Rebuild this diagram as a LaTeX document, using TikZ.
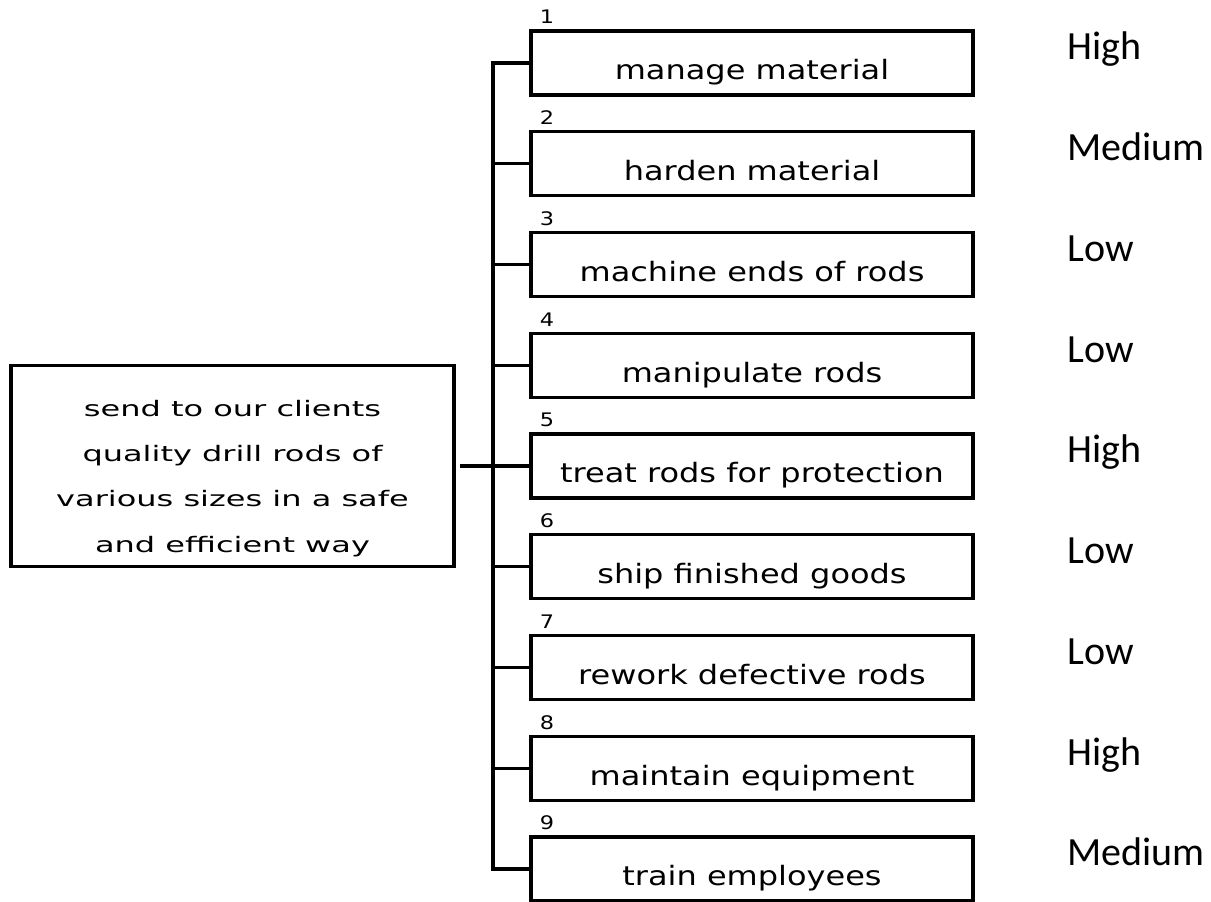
\documentclass[tikz,border=0pt]{standalone}
\usepackage{fontspec}
\setmainfont{DejaVu Sans}
\newfontfamily\pixfont[FakeStretch=1.2]{DejaVu Sans}
\newfontfamily\goalfont[FakeStretch=1.5]{DejaVu Sans}
\newfontfamily\rankfont{Carlito}
\usetikzlibrary{positioning,calc}

\begin{document}
\begin{tikzpicture}[
  x=0.75pt, y=-0.75pt,
  line width=2.4pt,
  node distance=27.56pt,
  goalbox/.style={draw, rectangle, inner sep=0pt, outer sep=0pt, minimum width=332.25pt, minimum height=150.75pt, align=center, font={\goalfont\fontsize{16}{34}\selectfont}},
  func/.style={draw, rectangle, inner sep=0pt, outer sep=0pt, minimum width=331.5pt, text height=36.75pt, text depth=11.25pt, font={\pixfont\fontsize{20}{24}\selectfont}},
  num/.style={inner sep=0pt, font={\pixfont\fontsize{14}{16}\selectfont}},
  rank/.style={inner sep=0pt, font={\rankfont\fontsize{30}{36}\selectfont}},
  wire/.style={line width=2.4pt}
]
\useasboundingbox (0,0) rectangle (1211,902);

% functions
\node[func] (b1) at (752,63) {manage material};
\node[func, below=of b1] (b2) {harden material};
\node[func, below=of b2] (b3) {machine ends of rods};
\node[func, below=of b3] (b4) {manipulate rods};
\node[func, below=of b4] (b5) {treat rods for protection};
\node[func, below=of b5] (b6) {ship finished goods};
\node[func, below=of b6] (b7) {rework defective rods};
\node[func, below=of b7] (b8) {maintain equipment};
\node[func, below=of b8] (b9) {train employees};

% goal
\node[goalbox, left=57.75pt of b5] (goal) {\rule{0pt}{30.8pt}send to our clients\\quality drill rods of\\various sizes in a safe\\and efficient way};

% numbers
\node[num] (n1) at ($(b1.north west)+(16,-14)$) {1};
\node[num] (n2) at ($(b2.north west)+(16,-14)$) {2};
\node[num] (n3) at ($(b3.north west)+(16,-14)$) {3};
\node[num] (n4) at ($(b4.north west)+(16,-14)$) {4};
\node[num] (n5) at ($(b5.north west)+(16,-14)$) {5};
\node[num] (n6) at ($(b6.north west)+(16,-14)$) {6};
\node[num] (n7) at ($(b7.north west)+(16,-14)$) {7};
\node[num] (n8) at ($(b8.north west)+(16,-14)$) {8};
\node[num] (n9) at ($(b9.north west)+(16,-14)$) {9};

% priorities
\node[rank, right=69.75pt of b1.east, anchor=base west, yshift=2.25pt] (r1) {High};
\node[rank, right=69.75pt of b2.east, anchor=base west, yshift=2.25pt] (r2) {Medium};
\node[rank, right=69.75pt of b3.east, anchor=base west, yshift=2.25pt] (r3) {Low};
\node[rank, right=69.75pt of b4.east, anchor=base west, yshift=2.25pt] (r4) {Low};
\node[rank, right=69.75pt of b5.east, anchor=base west, yshift=2.25pt] (r5) {High};
\node[rank, right=69.75pt of b6.east, anchor=base west, yshift=2.25pt] (r6) {Low};
\node[rank, right=69.75pt of b7.east, anchor=base west, yshift=2.25pt] (r7) {Low};
\node[rank, right=69.75pt of b8.east, anchor=base west, yshift=2.25pt] (r8) {High};
\node[rank, right=69.75pt of b9.east, anchor=base west, yshift=2.25pt] (r9) {Medium};

% tree lines
\coordinate (spine) at ($(b1.west)+(-38,0)$);
\draw[wire] (b1.west) -- (b1.west -| spine) -- (b9.west -| spine) -- (b9.west);
\draw[wire] (b2.west) -- (b2.west -| spine);
\draw[wire] (b3.west) -- (b3.west -| spine);
\draw[wire] (b4.west) -- (b4.west -| spine);
\draw[wire] (b6.west) -- (b6.west -| spine);
\draw[wire] (b7.west) -- (b7.west -| spine);
\draw[wire] (b8.west) -- (b8.west -| spine);
\draw[wire, shorten <=4.5pt] (goal.east) -- (b5.west);

\end{tikzpicture}
\end{document}
